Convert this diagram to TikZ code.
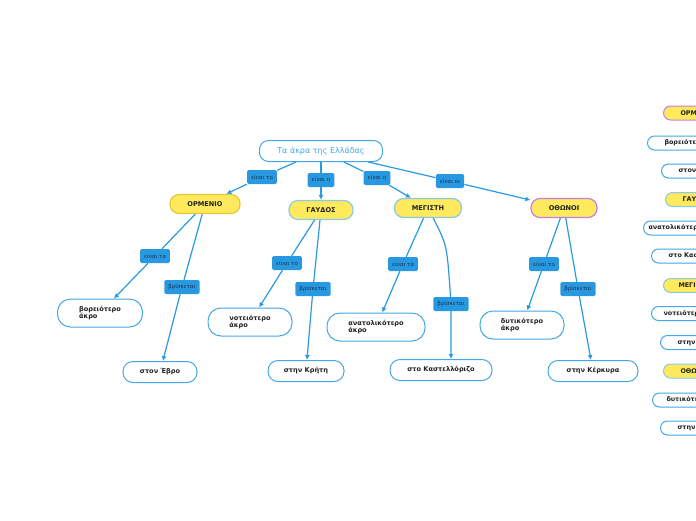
\documentclass[tikz,border=0pt]{standalone}
\usepackage{fontspec}
\setmainfont{DejaVu Sans}
\usetikzlibrary{arrows.meta}

\definecolor{lineblue}{HTML}{2A9AE0}
\definecolor{tagblue}{HTML}{2898E0}
\definecolor{tagtext}{HTML}{1C3550}
\definecolor{topyellow}{HTML}{FFE95C}
\definecolor{rimblue}{HTML}{45A8E6}
\definecolor{paleblue}{HTML}{8CC8E8}
\definecolor{rimpurple}{HTML}{C77DE8}
\definecolor{rimyellow}{HTML}{E6C93A}
\definecolor{inktext}{HTML}{222222}

\begin{document}
\begin{tikzpicture}[x=1pt,y=-1pt,
  root/.style={draw=rimblue,line width=1pt,fill=white,rounded corners=9pt,minimum width=123pt,minimum height=21pt,text=rimblue,font=\fontsize{8}{9}\selectfont},
  place/.style={draw=paleblue,line width=1.2pt,fill=topyellow,rounded corners=9pt,minimum height=19pt,font=\bfseries\fontsize{6.6}{7.5}\selectfont,text=inktext},
  fact/.style={draw=rimblue,line width=1pt,fill=white,rounded corners=10pt,minimum height=21pt,align=left,font=\bfseries\fontsize{6.6}{7.6}\selectfont,text=inktext},
  facttwo/.style={fact,minimum height=28pt,rounded corners=13pt},
  tag/.style={fill=tagblue,rounded corners=1.5pt,inner xsep=4pt,minimum height=14pt,text=tagtext,font=\fontsize{5.5}{6}\selectfont},
  link/.style={draw=lineblue,line width=1.2pt},
  tip/.style={link,-{Latex[length=5pt,width=5pt]}},
  side/.style={draw=rimblue,line width=1pt,fill=white,rounded corners=7pt,minimum height=14pt,inner xsep=17pt,anchor=west,font=\bfseries\fontsize{6.4}{7}\selectfont,text=inktext},
  sideplace/.style={side,fill=topyellow,draw=paleblue}
]
\useasboundingbox (0,0) rectangle (696,520);
\clip (0,0) rectangle (696,520);

% main map
\node[root] (top) at (321,151) {Τα άκρα της Ελλάδας};

\node[place,draw=rimyellow,minimum width=70pt] (ormenio) at (205,204) {ΟΡΜΕΝΙΟ};
\node[place,minimum width=64pt] (gavdos) at (321,210) {ΓΑΥΔΟΣ};
\node[place,minimum width=67pt] (megisti) at (428,208) {ΜΕΓΙΣΤΗ};
\node[place,draw=rimpurple,minimum width=66pt] (othonoi) at (564,208) {ΟΘΩΝΟΙ};

\node[tag] (t1) at (262,177) {είναι το};
\node[tag] (t2) at (321,180) {είναι η};
\node[tag] (t3) at (377,178) {είναι η};
\node[tag] (t4) at (450,181) {είναι οι};

\draw[tip] (top) -- (t1) -- (ormenio);
\draw[tip] (top) -- (t2) -- (gavdos);
\draw[tip] (top) -- (t3) -- (megisti);
\draw[tip] (top) -- (t4) -- (othonoi);

% ormenio
\node[tag] (a1) at (155,256) {είναι το};
\node[tag] (a2) at (182,287) {βρίσκεται};
\node[facttwo,minimum width=85pt] (voreio) at (100,313) {βορειότερο\\άκρο};
\node[fact,minimum width=74pt] (evros) at (160,372) {στον Έβρο};
\draw[tip] (ormenio) -- (a1) -- (voreio);
\draw[tip] (ormenio) -- (a2) -- (evros);

% gavdos
\node[tag] (b1) at (287,263) {είναι το};
\node[tag] (b2) at (313,289) {βρίσκεται};
\node[facttwo,minimum width=84pt] (noteio) at (250,322) {νοτειότερο\\άκρο};
\node[fact,minimum width=76pt] (kriti) at (306,371) {στην Κρήτη};
\draw[tip] (gavdos) -- (b1) -- (noteio);
\draw[tip] (gavdos) -- (b2) -- (kriti);

% megisti
\node[tag] (c1) at (403,264) {είναι το};
\node[tag] (c2) at (451,304) {βρίσκεται};
\node[facttwo,minimum width=98pt] (anatol) at (376,327) {ανατολικότερο\\άκρο};
\node[fact,minimum width=102pt] (kastel) at (441,370) {στο Καστελλόριζο};
\draw[tip] (megisti) -- (c1) -- (anatol);
\draw[tip] (megisti) .. controls (447,245) .. (c2) -- (c2 |- kastel.north);

% othonoi
\node[tag] (d1) at (544,264) {είναι το};
\node[tag] (d2) at (578,289) {βρίσκεται};
\node[facttwo,minimum width=84pt] (dytiko) at (522,325) {δυτικότερο\\άκρο};
\node[fact,minimum width=90pt] (kerkyra) at (593,371) {στην Κέρκυρα};
\draw[tip] (othonoi) -- (d1) -- (dytiko);
\draw[tip] (othonoi) -- (d2) -- (kerkyra);

% outline on the right edge
\node[sideplace,draw=rimpurple] (s1) at (663,113) {ΟΡΜΕΝΙΟ};
\node[side] (s2) at (647,143) {βορειότερο άκρο};
\node[side] (s3) at (661,171) {στον Έβρο};
\node[sideplace] (s4) at (665,199.5) {ΓΑΥΔΟΣ};
\node[side,inner xsep=5pt] (s5) at (643,228) {ανατολικότερο άκρο};
\node[side] (s6) at (651,256) {στο Καστελλόριζο};
\node[sideplace,inner xsep=15pt] (s7) at (663,285.5) {ΜΕΓΙΣΤΗ};
\node[side,inner xsep=12pt] (s8) at (651,313.5) {νοτειότερο άκρο};
\node[side] (s9) at (660,342.5) {στην Κρήτη};
\node[sideplace] (s10) at (663,371) {ΟΘΩΝΟΙ};
\node[side,inner xsep=14pt] (s11) at (652,400) {δυτικότερο άκρο};
\node[side] (s12) at (660,428) {στην Κέρκυρα};
\end{tikzpicture}
\end{document}
